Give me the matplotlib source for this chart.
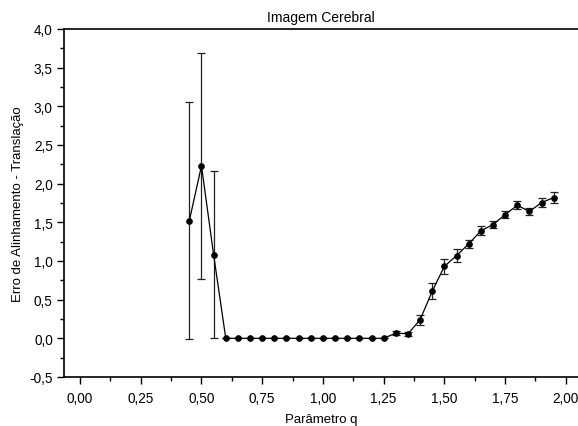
import matplotlib
matplotlib.use("Agg")
import matplotlib.pyplot as plt
from matplotlib.ticker import MultipleLocator, FuncFormatter

plt.rcParams['font.family'] = ['Liberation Sans', 'DejaVu Sans']

q = [0.45, 0.50, 0.55, 0.60, 0.65, 0.70, 0.75, 0.80, 0.85, 0.90, 0.95, 1.00,
     1.05, 1.10, 1.15, 1.20, 1.25, 1.30, 1.35, 1.40, 1.45, 1.50, 1.55, 1.60,
     1.65, 1.70, 1.75, 1.80, 1.85, 1.90, 1.95]
erro = [1.52, 2.23, 1.08, 0.0, 0.0, 0.0, 0.0, 0.0, 0.0, 0.0, 0.0, 0.0,
        0.0, 0.0, 0.0, 0.0, 0.0, 0.067, 0.058, 0.24, 0.61, 0.93, 1.07, 1.22,
        1.39, 1.47, 1.60, 1.72, 1.64, 1.755, 1.82]
desvio = [1.53, 1.46, 1.08, 0.0, 0.0, 0.0, 0.0, 0.0, 0.0, 0.0, 0.0, 0.0,
          0.0, 0.0, 0.0, 0.0, 0.0, 0.03, 0.025, 0.065, 0.10, 0.10, 0.08, 0.05,
          0.06, 0.05, 0.05, 0.05, 0.04, 0.06, 0.075]

fig = plt.figure(figsize=(5.78, 4.27), dpi=100)
ax = fig.add_axes([0.1107, 0.1148, 0.8893, 0.815])

ax.errorbar(q, erro, yerr=desvio, fmt='-o', color='black', markersize=3.8,
            linewidth=0.9, elinewidth=0.9, ecolor='#222222', capsize=2.6, capthick=0.9)

ax.set_xlim(-0.066, 2.05)
ax.set_ylim(-0.5, 4.0)
ax.xaxis.set_major_locator(MultipleLocator(0.25))
ax.xaxis.set_minor_locator(MultipleLocator(0.125))
ax.yaxis.set_major_locator(MultipleLocator(0.5))
ax.yaxis.set_minor_locator(MultipleLocator(0.25))
ax.xaxis.set_major_formatter(FuncFormatter(lambda v, p: f"{v:.2f}".replace('.', ',')))
ax.yaxis.set_major_formatter(FuncFormatter(lambda v, p: f"{v:.1f}".replace('.', ',')))

ax.spines['right'].set_visible(False)
for s in ['left', 'bottom', 'top']:
    ax.spines[s].set_linewidth(1.2)
ax.tick_params(axis='both', which='major', direction='out', length=5, width=1,
               labelsize=9.8, top=False, right=False)
ax.tick_params(axis='both', which='minor', direction='out', length=3, width=1,
               top=False, right=False)
ax.tick_params(axis='x', which='major', pad=5)
ax.tick_params(axis='y', which='major', pad=3)

ax.set_title('Imagem Cerebral', fontsize=10, pad=6)
ax.set_xlabel('Parâmetro q', fontsize=9.5, labelpad=6)
ax.set_ylabel('Erro de Alinhamento - Translação', fontsize=9.5, labelpad=4)

fig.savefig('out.png', dpi=100)
